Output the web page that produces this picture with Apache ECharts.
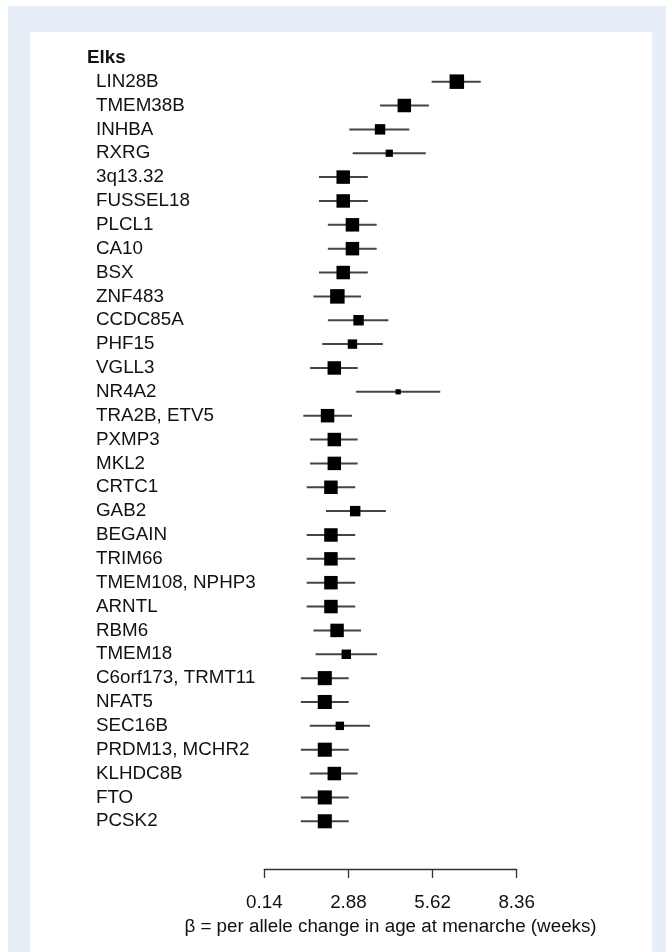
<!DOCTYPE html>
<html>
<head>
<meta charset="utf-8">
<script src="https://cdn.jsdelivr.net/npm/echarts@6/dist/echarts.min.js"></script>
<style>
  html, body { margin: 0; padding: 0; background: #ffffff; }
  #chart { width: 666px; height: 952px; }
</style>
</head>
<body>
<div id="chart"></div>
<script>
// ---- data ----
const groupTitle = 'Elks';
const genes = ['LIN28B','TMEM38B','INHBA','RXRG','3q13.32','FUSSEL18','PLCL1','CA10','BSX','ZNF483',
  'CCDC85A','PHF15','VGLL3','NR4A2','TRA2B, ETV5','PXMP3','MKL2','CRTC1','GAB2','BEGAIN',
  'TRIM66','TMEM108, NPHP3','ARNTL','RBM6','TMEM18','C6orf173, TRMT11','NFAT5','SEC16B',
  'PRDM13, MCHR2','KLHDC8B','FTO','PCSK2'];
const beta = [6.41,4.70,3.91,4.21,2.71,2.71,3.01,3.01,2.71,2.52,
  3.21,3.01,2.42,4.50,2.20,2.42,2.42,2.31,3.10,2.31,
  2.31,2.31,2.31,2.51,2.81,2.11,2.11,2.60,2.11,2.42,2.11,2.11];
const ciLow = [5.59,3.91,2.91,3.02,1.92,1.92,2.21,2.21,1.92,1.74,
  2.21,2.03,1.63,3.13,1.41,1.63,1.63,1.52,2.15,1.52,
  1.52,1.52,1.52,1.74,1.81,1.33,1.33,1.62,1.33,1.62,1.33,1.33];
const ciHigh = [7.19,5.50,4.86,5.40,3.51,3.51,3.80,3.80,3.51,3.29,
  4.18,4.00,3.18,5.87,3.00,3.18,3.18,3.10,4.10,3.10,
  3.10,3.10,3.10,3.29,3.81,2.89,2.89,3.58,2.89,3.18,2.89,2.89];
// relative study weight (box size relative to the largest)
const weight = [1.00,0.93,0.72,0.50,0.93,0.93,0.93,0.93,0.93,1.00,
  0.72,0.65,0.93,0.36,0.93,0.93,0.93,0.93,0.72,0.93,
  0.93,0.93,0.93,0.93,0.65,0.97,0.97,0.58,0.97,0.93,0.97,0.97];
const tickValues = [0.14, 2.88, 5.62, 8.36];
const axisTitle = 'β = per allele change in age at menarche (weeks)';

// ---- chart ----
const BOX_MAX = 14.5;
const FS = 18.8;
const categories = [groupTitle].concat(genes, ['', '']);
const seriesData = genes.map((g, i) => [beta[i], ciLow[i], ciHigh[i], weight[i], i + 1]);

const chart = echarts.init(document.getElementById('chart'), null, { renderer: 'canvas' });
const FONT = '"Liberation Sans", Arial, Helvetica, sans-serif';

chart.setOption({
  animation: false,
  backgroundColor: '#ffffff',
  textStyle: { fontFamily: FONT },
  graphic: [
    { type: 'rect', z: -10, shape: { x: 8, y: 6, width: 658, height: 946 }, style: { fill: '#e7eef8' } },
    { type: 'rect', z: -9, shape: { x: 30, y: 32, width: 622, height: 920 }, style: { fill: '#ffffff' } }
  ],
  grid: { left: 264.3, right: 149.3, top: 57.8, bottom: 83, containLabel: false },
  xAxis: {
    type: 'value',
    min: 0.14,
    max: 8.36,
    position: 'bottom',
    splitLine: { show: false },
    axisLine: { show: true, lineStyle: { color: '#333', width: 1.3 } },
    axisTick: { show: true, customValues: tickValues, length: 9, inside: false, lineStyle: { color: '#333', width: 1.3 } },
    axisLabel: {
      customValues: tickValues,
      formatter: v => v.toFixed(2),
      margin: 24,
      fontSize: FS,
      color: '#111',
      fontFamily: FONT
    },
    name: axisTitle,
    nameLocation: 'middle',
    nameGap: 46,
    nameTextStyle: { fontSize: FS, color: '#111', fontFamily: FONT }
  },
  yAxis: {
    type: 'category',
    data: categories,
    inverse: true,
    boundaryGap: false,
    axisLine: { show: false },
    axisTick: { show: false },
    splitLine: { show: false },
    axisLabel: {
      interval: 0,
      align: 'left',
      margin: 177.3,
      fontSize: FS,
      color: '#111',
      fontFamily: FONT,
      formatter: (v, i) => i === 0 ? '{h|' + v + '}' : '{g|' + v + '}',
      rich: {
        h: { fontSize: FS, fontWeight: 'bold', color: '#111', fontFamily: FONT },
        g: { fontSize: FS, color: '#111', fontFamily: FONT, padding: [0, 0, 0, 9] }
      }
    }
  },
  series: [{
    type: 'custom',
    clip: false,
    encode: { x: [0, 1, 2], y: 4 },
    data: seriesData,
    renderItem: function (params, api) {
      const yi = api.value(4);
      const c = api.coord([api.value(0), yi]);
      const lo = api.coord([api.value(1), yi]);
      const hi = api.coord([api.value(2), yi]);
      const s = api.value(3) * BOX_MAX;
      return {
        type: 'group',
        children: [
          { type: 'line', shape: { x1: lo[0], y1: lo[1], x2: hi[0], y2: hi[1] },
            style: { stroke: '#444', lineWidth: 2 } },
          { type: 'rect', shape: { x: c[0] - s / 2, y: c[1] - s / 2, width: s, height: s },
            style: { fill: '#000' } }
        ]
      };
    }
  }]
});
</script>
</body>
</html>
